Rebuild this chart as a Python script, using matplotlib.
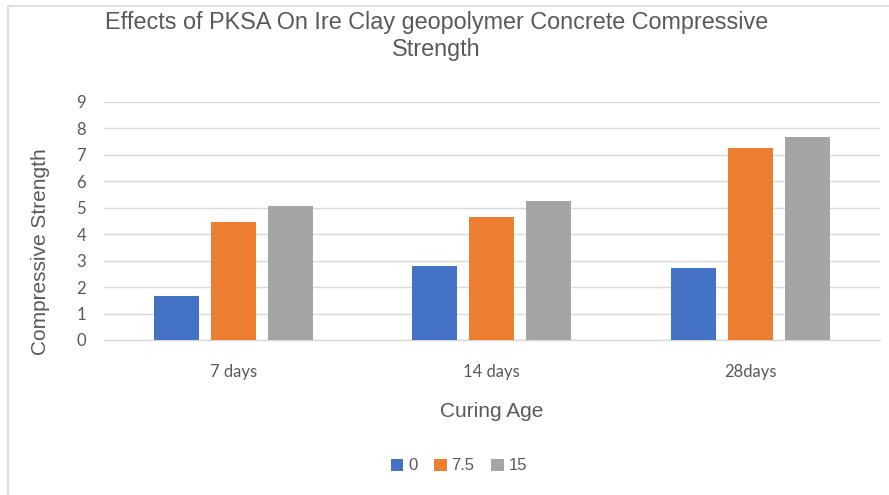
import matplotlib
matplotlib.use("Agg")
import matplotlib.pyplot as plt
from matplotlib.patches import Rectangle, Patch
import numpy as np

categories = ["7 days", "14 days", "28days"]
series_names = ["0", "7.5", "15"]
values_0 = [1.68, 2.80, 2.71]
values_75 = [4.46, 4.65, 7.25]
values_15 = [5.05, 5.27, 7.66]
colors = ["#4472C4", "#ED7D31", "#A5A5A5"]
yticks = list(range(0, 10))

W, H = 889, 495
fig = plt.figure(figsize=(W / 100, H / 100), dpi=100)
fig.patch.set_facecolor("white")

# chart area border (cropped at right/bottom)
fig.patches.append(Rectangle((8 / W, -0.1), 1.2, 1 - 6 / H + 0.1, transform=fig.transFigure,
                             fill=False, edgecolor="#D9D9D9", linewidth=1.2, zorder=0))

ax = fig.add_axes([104 / W, 1 - 340 / H, (879.5 - 104) / W, (340 - 102) / H])
x = np.arange(len(categories))
bw = 0.174
offs = [-0.22, 0.0, 0.22]
for vals, off, c, name in zip([values_0, values_75, values_15], offs, colors, series_names):
    ax.bar(x + off, vals, width=bw, color=c, label=name, zorder=3)

ax.set_xlim(-0.5, 2.5)
ax.set_ylim(0, 9)
ax.set_yticks(yticks)
ax.set_xticks(x)
ax.set_xticklabels(categories)
ax.grid(axis="y", color="#D9D9D9", linewidth=1.0, zorder=0)
ax.set_axisbelow(True)
for s in ["top", "right", "left"]:
    ax.spines[s].set_visible(False)
ax.spines["bottom"].set_color("#D9D9D9")
ax.spines["bottom"].set_linewidth(1.0)
ax.tick_params(axis="both", length=0, colors="#595959")
ax.tick_params(axis="y", pad=13)
ax.tick_params(axis="x", pad=17)
for lab in ax.get_xticklabels() + ax.get_yticklabels():
    lab.set_fontfamily("Lato")
    lab.set_fontsize(12)
    lab.set_color("#595959")

fig.text(436.5 / W, 1 - 36 / H, "Effects of PKSA On Ire Clay geopolymer Concrete Compressive\nStrength",
         ha="center", va="center", fontsize=16.8, color="#595959", family="Liberation Sans",
         multialignment="center", linespacing=1.2)

fig.text(492 / W, 1 - 411.5 / H, "Curing Age", ha="center", va="center", fontsize=15,
         color="#595959", family="Liberation Sans")
fig.text(41 / W, 1 - 252 / H, "Compressive Strength", ha="center", va="center", rotation=90,
         fontsize=15, color="#595959", family="Liberation Sans")

handles = [Patch(facecolor=c, edgecolor="none") for c in colors]
leg = fig.legend(handles, series_names, loc="center", bbox_to_anchor=(459 / W, 1 - 466 / H),
                 ncol=3, frameon=False, handlelength=0.75, handleheight=0.75,
                 handletextpad=0.3, columnspacing=1.0, borderaxespad=0,
                 prop={"family": "Liberation Sans", "size": 12})
for t in leg.get_texts():
    t.set_color("#595959")

fig.savefig("out.png", dpi=100, facecolor="white")
